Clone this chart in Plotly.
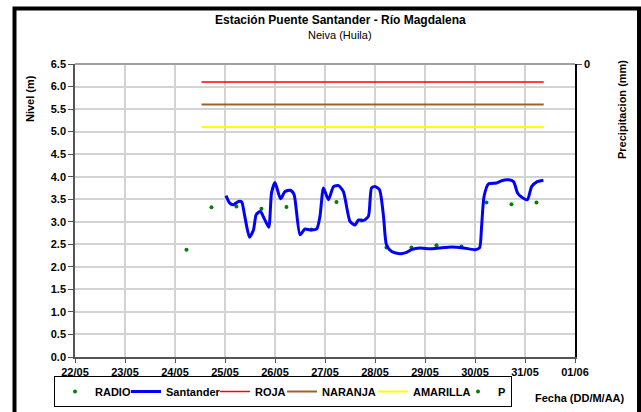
import plotly.graph_objects as go

# Nivel Santander (m)
santander_fecha = [
    "2011-05-25 00:30", "2011-05-25 02:10", "2011-05-25 04:00", "2011-05-25 06:30", "2011-05-25 08:00",
    "2011-05-25 09:30", "2011-05-25 11:45", "2011-05-25 13:40", "2011-05-25 15:00", "2011-05-25 17:00",
    "2011-05-25 18:45", "2011-05-25 21:00", "2011-05-25 22:20", "2011-05-26 00:00", "2011-05-26 02:40",
    "2011-05-26 04:50", "2011-05-26 07:25", "2011-05-26 09:10", "2011-05-26 12:00", "2011-05-26 14:25",
    "2011-05-26 16:50", "2011-05-26 20:00", "2011-05-26 21:35", "2011-05-26 23:15", "2011-05-27 01:40",
    "2011-05-27 04:05", "2011-05-27 06:30", "2011-05-27 08:50", "2011-05-27 12:00", "2011-05-27 14:25",
    "2011-05-27 16:05", "2011-05-27 18:30", "2011-05-27 20:50", "2011-05-27 22:20", "2011-05-28 00:00",
    "2011-05-28 02:10", "2011-05-28 04:05", "2011-05-28 05:30", "2011-05-28 08:00", "2011-05-28 12:00",
    "2011-05-28 15:10", "2011-05-28 17:30", "2011-05-28 21:35", "2011-05-29 02:25", "2011-05-29 07:10",
    "2011-05-29 12:45", "2011-05-29 18:30", "2011-05-30 00:00", "2011-05-30 02:10", "2011-05-30 03:10",
    "2011-05-30 04:20", "2011-05-30 06:30", "2011-05-30 10:20", "2011-05-30 12:45", "2011-05-30 16:05",
    "2011-05-30 18:30", "2011-05-30 20:25", "2011-05-30 22:20", "2011-05-31 01:10", "2011-05-31 03:10",
    "2011-05-31 05:30", "2011-05-31 08:50",
]
santander_nivel = [
    3.58, 3.42, 3.38, 3.45, 3.44,
    3.12, 2.66, 2.82, 3.16, 3.23,
    3.08, 2.88, 3.64, 3.87, 3.51,
    3.67, 3.70, 3.60, 2.71, 2.84,
    2.82, 2.84, 3.12, 3.75, 3.49,
    3.78, 3.80, 3.67, 3.01, 2.93,
    3.04, 3.03, 3.12, 3.75, 3.78,
    3.71, 3.12, 2.49, 2.34, 2.29,
    2.32, 2.38, 2.42, 2.40, 2.42,
    2.44, 2.42, 2.38, 2.42, 2.90,
    3.56, 3.84, 3.86, 3.91, 3.93,
    3.89, 3.64, 3.55, 3.49, 3.78,
    3.88, 3.92,
]

# Lecturas RADIO (m)
radio_fecha = [
    "2011-05-24 05:30", "2011-05-24 17:30", "2011-05-25 05:30", "2011-05-25 17:30",
    "2011-05-26 05:30", "2011-05-26 17:30", "2011-05-27 05:30", "2011-05-27 17:30",
    "2011-05-28 05:30", "2011-05-28 17:30", "2011-05-29 05:30", "2011-05-29 17:30",
    "2011-05-30 05:30", "2011-05-30 17:30", "2011-05-31 05:30",
]
radio_nivel = [2.38, 3.32, 3.34, 3.29, 3.33, 2.83, 3.44, 3.03, 2.43, 2.43, 2.48, 2.45, 3.43, 3.39, 3.43]

# Umbrales de alerta
umbral_fecha = ["2011-05-24 12:45", "2011-05-31 09:00"]
umbral_nombres = ["ROJA", "NARANJA", "AMARILLA"]
umbral_valores = [6.1, 5.6, 5.1]
umbral_colores = ["#FF0000", "#A0622D", "#FFFF00"]
umbral_anchos = [1.5, 2, 2]

fuente = "Arial, Liberation Sans, sans-serif"

# pixeles -> coordenadas paper
L, R, T, B = 75, 575, 64, 357
def px(x):
    return (x - L) / (R - L)
def py(y):
    return (B - y) / (B - T)

fig = go.Figure()

fig.add_trace(go.Scatter(x=radio_fecha, y=radio_nivel, mode="markers", name="RADIO",
                         marker=dict(color="#008000", size=4), legendwidth=26))
fig.add_trace(go.Scatter(x=santander_fecha, y=santander_nivel, mode="lines", name="Santander",
                         line=dict(color="#0000FF", width=3, shape="spline", smoothing=0.6),
                         legendwidth=44))
for nombre, valor, color, ancho, lw in zip(umbral_nombres, umbral_valores, umbral_colores,
                                           umbral_anchos, [22, 46, 40]):
    fig.add_trace(go.Scatter(x=umbral_fecha, y=[valor, valor], mode="lines", name=nombre,
                             line=dict(color=color, width=ancho), legendwidth=lw))
fig.add_trace(go.Scatter(x=[None], y=[None], mode="markers", name="P", yaxis="y2",
                         marker=dict(color="#008000", size=4), legendwidth=8))

fig.update_layout(
    width=641, height=412,
    margin=dict(l=L, r=641 - R, t=T, b=412 - B, autoexpand=False),
    paper_bgcolor="white", plot_bgcolor="white",
    font=dict(family=fuente, size=11, color="black"),
    xaxis=dict(
        type="date", range=["2011-05-22", "2011-06-01"], dtick=86400000, tickformat="%d/%m",
        showgrid=True, gridcolor="#D3D3D3", gridwidth=1.5,
        showline=True, linecolor="#555555", linewidth=1.5,
        ticks="outside", ticklen=4, tickcolor="#555555",
        tickfont=dict(family=fuente, size=11, color="black", weight="bold"),
        zeroline=False,
    ),
    yaxis=dict(
        range=[0, 6.5], dtick=0.5, tickformat=".1f",
        showgrid=True, gridcolor="#D3D3D3", gridwidth=1.5,
        showline=True, linecolor="#555555", linewidth=1.5,
        ticks="outside", ticklen=5, tickcolor="#555555",
        tickfont=dict(family=fuente, size=11, color="black", weight="bold"),
        zeroline=False,
    ),
    yaxis2=dict(
        overlaying="y", side="right", range=[50, 0], tickvals=[0], ticktext=["0"],
        showgrid=False, showline=True, linecolor="black", linewidth=1.5,
        ticks="outside", ticklen=5, tickcolor="#555555",
        tickfont=dict(family=fuente, size=11, color="black", weight="bold"),
        zeroline=False,
    ),
    showlegend=True,
    legend=dict(
        orientation="h", x=px(54), xanchor="left", y=py(376), yanchor="top",
        bordercolor="black", borderwidth=1, bgcolor="white",
        font=dict(family=fuente, size=11, color="black", weight="bold"),
        itemwidth=30, tracegroupgap=0, valign="middle",
    ),
)

# linea superior del area de grafico
fig.add_shape(type="line", xref="paper", yref="paper", x0=0, x1=1, y0=1, y1=1,
              line=dict(color="#A0A0A0", width=2))

# marco exterior
fig.add_shape(type="rect", xref="paper", yref="paper",
              x0=px(14.5), x1=px(639), y0=py(8.5), y1=py(430),
              line=dict(color="black", width=4))

textos = [
    ("<b>Estación Puente Santander - Río Magdalena</b>", 340, 20, 0, 12),
    ("Neiva (Huila)", 340, 35, 0, 11),
    ("<b>Nivel (m)</b>", 30, 99, -90, 11),
    ("<b>Precipitacion (mm)</b>", 622, 110, -90, 11),
    ("<b>Fecha (DD/M/AA)</b>", 580, 398, 0, 11),
]
for texto, x, y, ang, tam in textos:
    fig.add_annotation(text=texto, xref="paper", yref="paper", x=px(x), y=py(y),
                       xanchor="center", yanchor="middle", textangle=ang,
                       showarrow=False, font=dict(size=tam))

fig.write_html("out.html", config={"displayModeBar": False},
               post_script="document.body.style.margin='0';")
